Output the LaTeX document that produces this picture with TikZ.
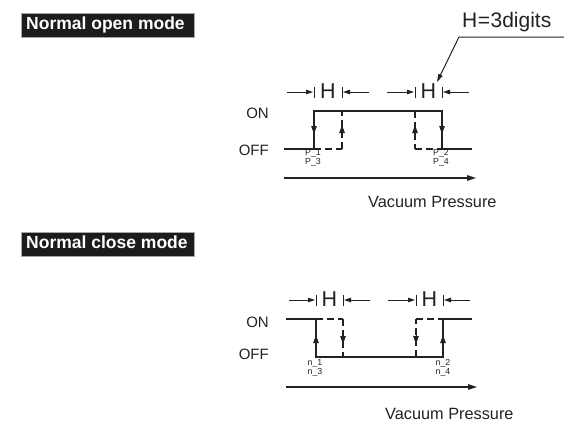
\documentclass[tikz,border=0pt]{standalone}
\usepackage{fontspec}
\setmainfont{Liberation Sans}
\usetikzlibrary{arrows.meta}
\definecolor{ink}{HTML}{222222}
\definecolor{boxfill}{HTML}{1E1B1B}
\tikzset{
  sig/.style={draw=ink, line width=1.3pt},
  dsig/.style={draw=ink, line width=1.3pt, dash pattern=on 7pt off 4pt},
  tipd/.style={-{Triangle[length=7pt,width=4.5pt]}, draw=ink, fill=ink, line width=1pt},
  tipv/.style={-{Triangle[length=8pt,width=5.5pt]}, draw=ink, fill=ink, line width=1pt},
  axis/.style={draw=ink, line width=1.3pt, -{Triangle[length=9pt,width=5.5pt]}},
  tick/.style={draw=ink, line width=1pt},
  lab/.style={inner sep=0pt, font=\fontsize{15}{15}\selectfont, text=ink},
  vlab/.style={inner sep=0pt, font=\fontsize{16.3}{16.3}\selectfont, text=ink},
  hlab/.style={inner sep=0pt, font=\fontsize{21.5}{21.5}\selectfont, text=ink},
  plab/.style={inner sep=0pt, font=\fontsize{8.8}{6.3}\selectfont, align=center, text=ink},
  title/.style={fill=boxfill, draw=gray!70, line width=0.6pt, inner sep=0pt},
  titletext/.style={inner sep=0pt, text=white, font=\bfseries\fontsize{17.5}{17.5}\selectfont},
}
\begin{document}
\begin{tikzpicture}[x=1pt,y=-1pt]
\useasboundingbox (0,0) rectangle (564,421);
% ---------- Titles ----------
\fill[title] (21,13) rectangle (194,37);
\node[titletext, anchor=base west] (t1) at (26,29) {Normal open mode};
\fill[title] (21,232) rectangle (194,256);
\node[titletext, anchor=base west] (t2) at (26,248.5) {Normal close mode};
% ---------- H=3digits ----------
\node[inner sep=0pt, anchor=base west, font=\fontsize{21}{21}\selectfont, text=ink] (hd) at (462,27.5) {H\kern0.5pt=\kern0.5pt3digits};
\coordinate (ld1) at (564,37);
\coordinate (ld2) at (459,37);
\coordinate (ld3) at (437,82);
\draw[draw=ink, line width=1pt, -{Triangle[length=8pt,width=4.5pt]}] (ld1) -- (ld2) -- (ld3);
% ================= OPEN MODE =================
\node[lab, anchor=east] (on1) at (269,113) {ON};
\node[lab, anchor=east] (off1) at (269,150) {OFF};
\coordinate (a0) at (284,149);
\coordinate (a1) at (314,149);
\coordinate (a2) at (314,111);
\coordinate (b1) at (342,149);
\coordinate (b2) at (342,111);
\coordinate (c1) at (415,149);
\coordinate (c2) at (415,111);
\coordinate (d1) at (442,149);
\coordinate (d2) at (442,111);
\coordinate (e0) at (472,149);
\draw[sig] (a0) -- (a1) -- (a2) -- (d2) -- (d1) -- (e0);
\draw[dsig] (a1) -- (b1);
\draw[dsig] (b1) -- (b2);
\draw[dsig] (c2) -- (c1);
\draw[dsig] (c1) -- (d1);
\draw[tipv] (314,124) -- (314,134);
\draw[tipv] (442,124) -- (442,134);
\draw[tipv] (342,135) -- (342,125);
\draw[tipv] (415,135) -- (415,125);
% H row
\node[hlab] (h1) at (328,91.5) {H};
\node[hlab] (h2) at (428.5,91.5) {H};
\draw[tick] (314,87) -- (314,98);
\draw[tick] (342,87) -- (342,98);
\draw[tick] (415,87) -- (415,98);
\draw[tick] (442,87) -- (442,98);
\draw[tipd] (287,92) -- (313,92);
\draw[tipd] (369,92) -- (343,92);
\draw[tipd] (387,92) -- (414,92);
\draw[tipd] (469,92) -- (443,92);
\node[plab] (p13) at (313,157.5) {P\_1\\P\_3};
\node[plab] (p24) at (441,157.5) {P\_2\\P\_4};
\coordinate (x0) at (284,178);
\coordinate (x1) at (476,178);
\draw[axis] (x0) -- (x1);
\node[vlab, anchor=west] (vp1) at (368,202) {Vacuum Pressure};
% ================= CLOSE MODE =================
\node[lab, anchor=east] (on2) at (269,322) {ON};
\node[lab, anchor=east] (off2) at (269,354) {OFF};
\coordinate (f0) at (286,319);
\coordinate (f1) at (316,319);
\coordinate (f2) at (316,357);
\coordinate (g1) at (343,319);
\coordinate (g2) at (343,357);
\coordinate (k1) at (416,319);
\coordinate (k2) at (416,357);
\coordinate (m1) at (443,319);
\coordinate (m2) at (443,357);
\coordinate (q0) at (472,319);
\draw[sig] (f0) -- (f1) -- (f2) -- (m2) -- (m1) -- (q0);
\draw[dsig] (f1) -- (g1);
\draw[dsig] (g1) -- (g2);
\draw[dsig] (k2) -- (k1);
\draw[dsig] (k1) -- (m1);
\draw[tipv] (316,345) -- (316,335);
\draw[tipv] (443,345) -- (443,335);
\draw[tipv] (343,334) -- (343,344);
\draw[tipv] (416,334) -- (416,344);
% H row
\node[hlab] (h3) at (329.5,299.5) {H};
\node[hlab] (h4) at (429.5,299.5) {H};
\draw[tick] (316,295) -- (316,306);
\draw[tick] (343,295) -- (343,306);
\draw[tick] (416,295) -- (416,306);
\draw[tick] (443,295) -- (443,306);
\draw[tipd] (289,300) -- (315,300);
\draw[tipd] (370,300) -- (344,300);
\draw[tipd] (388,300) -- (415,300);
\draw[tipd] (470,300) -- (444,300);
\node[plab] (n13) at (315,367.5) {n\_1\\n\_3};
\node[plab] (n24) at (443,367.5) {n\_2\\n\_4};
\coordinate (y0) at (286,387);
\coordinate (y1) at (477,387);
\draw[axis] (y0) -- (y1);
\node[vlab, anchor=west] (vp2) at (385,413.5) {Vacuum Pressure};
\end{tikzpicture}
\end{document}
